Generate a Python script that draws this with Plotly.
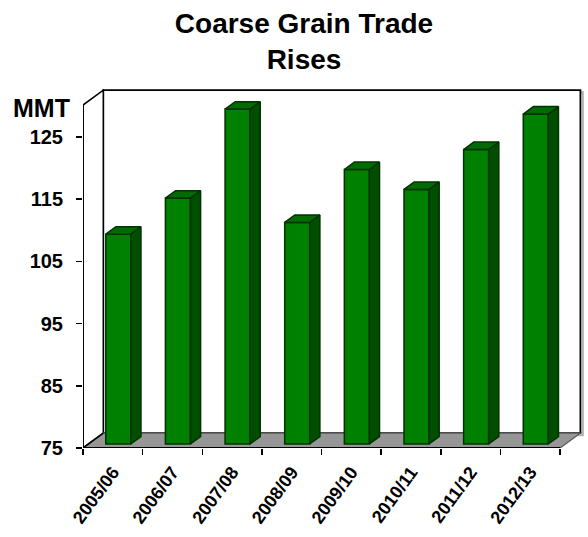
import plotly.graph_objects as go

# ---- data ----
categories = ["2005/06", "2006/07", "2007/08", "2008/09", "2009/10", "2010/11", "2011/12", "2012/13"]
trade_mmt = [108.7, 114.5, 128.8, 110.6, 119.1, 115.9, 122.3, 128.0]
y_ticks = [75, 85, 95, 105, 115, 125]

# ---- 3D-look geometry (data units) ----
Y0 = 75.0          # floor value
YTOP = 130.1       # top of front frame
DX, DY = 0.34, 2.4 # depth offset of the back wall
F0, S = 0.27, 0.5  # bar front-face depth fraction, bar depth fraction
W = 0.42           # bar width (category units)
N = len(categories)

FRONT = "#008000"
SIDE = "#004f00"
TOP = "#006b00"
EDGE = "#003300"

fig = go.Figure()

centers = [i + 0.5 for i in range(N)]
fx = [c + F0 * DX for c in centers]
base = Y0 + F0 * DY

# front faces through the bar trace
fig.add_trace(go.Bar(
    x=fx, y=[v - Y0 for v in trade_mmt], base=base, width=W,
    marker=dict(color=FRONT, line=dict(color=EDGE, width=1.5)),
    hoverinfo="skip", showlegend=False,
))

# side and top faces derived from the same values
for c, v in zip(fx, trade_mmt):
    xl, xr = c - W / 2, c + W / 2
    yb, yt = base, v + F0 * DY
    sx, sy = S * DX, S * DY
    fig.add_trace(go.Scatter(
        x=[xr, xr + sx, xr + sx, xr, xr], y=[yb, yb + sy, yt + sy, yt, yb],
        mode="lines", fill="toself", fillcolor=SIDE,
        line=dict(color=EDGE, width=1.5), hoverinfo="skip", showlegend=False,
    ))
    fig.add_trace(go.Scatter(
        x=[xl, xr, xr + sx, xl + sx, xl], y=[yt, yt, yt + sy, yt + sy, yt],
        mode="lines", fill="toself", fillcolor=TOP,
        line=dict(color=EDGE, width=1.5), hoverinfo="skip", showlegend=False,
    ))

def path(pts):
    return "M " + " L ".join(f"{x},{y}" for x, y in pts) + " Z"

shapes = [
    # back wall shadow
    dict(type="path", path=path([(DX + 0.04, YTOP + DY - 0.35), (N + DX + 0.04, YTOP + DY - 0.35),
                                  (N + DX + 0.04, Y0 + DY - 0.35), (DX + 0.04, Y0 + DY - 0.35)]),
         xref="x", yref="y", line=dict(color="#b0b0b0", width=2), layer="below"),
    # back wall
    dict(type="path", path=path([(DX, Y0 + DY), (N + DX, Y0 + DY), (N + DX, YTOP + DY), (DX, YTOP + DY)]),
         xref="x", yref="y", fillcolor="white", line=dict(color="black", width=1.8), layer="below"),
    # left wall
    dict(type="path", path=path([(0, Y0), (DX, Y0 + DY), (DX, YTOP + DY), (0, YTOP)]),
         xref="x", yref="y", fillcolor="white", line=dict(color="black", width=1.5), layer="below"),
    # floor
    dict(type="path", path=path([(0, Y0), (N, Y0), (N + DX, Y0 + DY), (DX, Y0 + DY)]),
         xref="x", yref="y", fillcolor="#969696", line=dict(color="#5a5a5a", width=1.2), layer="below"),
    # front axis lines
    dict(type="line", x0=0, x1=N, y0=Y0, y1=Y0, xref="x", yref="y",
         line=dict(color="black", width=1.8), layer="below"),
    dict(type="line", x0=0, x1=0, y0=Y0, y1=YTOP, xref="x", yref="y",
         line=dict(color="black", width=1.8), layer="below"),
    dict(type="line", x0=0, x1=DX, y0=Y0, y1=Y0 + DY, xref="x", yref="y",
         line=dict(color="black", width=1.5), layer="below"),
]

font_family = "Liberation Sans, Arial, sans-serif"

fig.update_layout(
    width=588, height=537,
    margin=dict(l=83, r=4, t=87, b=89, autoexpand=False),
    paper_bgcolor="white", plot_bgcolor="white",
    title=dict(text="Coarse Grain Trade<br>Rises", x=0.517, xanchor="center",
               y=0.939, yanchor="top", yref="container",
               font=dict(family=font_family, size=28, color="black", weight="bold")),
    shapes=shapes,
    xaxis=dict(range=[0, N + 0.4], tickvals=centers, ticktext=categories, tickangle=-54,
               ticks="", ticklabelstandoff=9, automargin=False,
               tickfont=dict(family=font_family, size=18, color="black", weight="bold"),
               minor=dict(tickvals=list(range(N + 1)), ticks="outside", ticklen=6,
                          tickcolor="black", tickwidth=1.5, showgrid=False),
               showgrid=False, zeroline=False, showline=False, fixedrange=True),
    yaxis=dict(range=[Y0, 133], tickvals=y_ticks, ticks="outside", ticklen=6,
               tickcolor="black", tickwidth=1.5, ticklabelstandoff=9, automargin=False,
               tickfont=dict(family=font_family, size=20, color="black", weight="bold"),
               showgrid=False, zeroline=False, showline=False, fixedrange=True),
    annotations=[dict(text="MMT", xref="paper", yref="y", x=-0.083, y=129.6,
                      xanchor="center", yanchor="middle", showarrow=False,
                      font=dict(family=font_family, size=25, color="black", weight="bold"))],
    bargap=0,
)

fig.write_html("out.html", config={"displayModeBar": False, "staticPlot": True},
               post_script="document.body.style.margin='0';document.body.style.overflow='hidden';")
